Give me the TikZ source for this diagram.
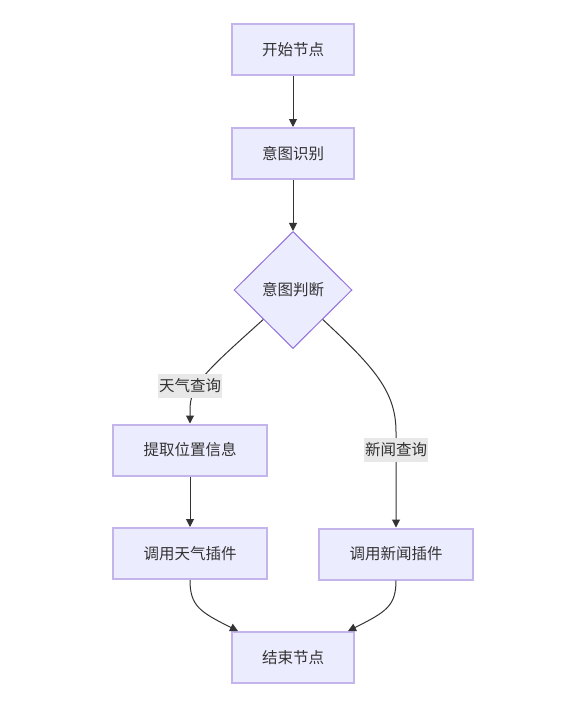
\documentclass[tikz,border=0pt]{standalone}
\usepackage{fontspec}
\setmainfont{Noto Sans CJK SC}
\usetikzlibrary{shapes.geometric,arrows.meta}
\definecolor{nodefill}{HTML}{ECECFF}
\definecolor{boxline}{HTML}{C3B5EC}
\definecolor{diamline}{HTML}{9370DB}
\definecolor{txt}{HTML}{333333}
\definecolor{edge}{HTML}{333333}
\definecolor{lblbg}{HTML}{E8E8E8}
\tikzset{
  box/.style={draw=boxline, line width=2pt, fill=nodefill, minimum width=122pt, minimum height=51pt, inner sep=0pt, text=txt, font=\fontsize{15.5pt}{18pt}\selectfont},
  wbox/.style={box, minimum width=154pt},
  dia/.style={diamond, draw=diamline, line width=1pt, fill=nodefill, minimum width=118pt, minimum height=117pt, inner sep=0pt, text=txt, font=\fontsize{15.5pt}{18pt}\selectfont},
  conn/.style={draw=edge, line width=1pt, -{Triangle[length=8pt,width=8pt]}},
  lbl/.style={fill=lblbg, text=txt, inner sep=1pt, minimum width=64pt, minimum height=24pt, font=\fontsize{15.5pt}{18pt}\selectfont}
}
\begin{document}
\begin{tikzpicture}[x=1pt,y=-1pt]
\useasboundingbox (0,0) rectangle (568,704);
\node[box] (start) at (293,49.5) {开始节点};
\node[box] (intent) at (293,153.5) {意图识别};
\node[dia] (judge) at (293,290) {意图判断};
\node[wbox] (extract) at (190,450) {提取位置信息};
\node[wbox] (weather) at (190,553.5) {调用天气插件};
\node[wbox] (news) at (396,554) {调用新闻插件};
\node[box] (end) at (293,657.5) {结束节点};

\draw[conn] (start) -- (intent);
\draw[conn] (intent) -- (judge);
\draw[conn] (judge.south west) .. controls (205,372) and (190,385) .. (190,410) -- (extract.north);
\draw[conn] (judge.south east) .. controls (375,368) and (396,392) .. (396,432) -- (news.north);
\draw[conn] (extract) -- (weather);
\draw[conn] (weather.south) .. controls (190,606) and (200,612) .. (238,631);
\draw[conn] (news.south) .. controls (396,606) and (386,612) .. (348,631);

\node[lbl] (l1) at (190,386) {天气查询};
\node[lbl] (l2) at (396,450) {新闻查询};
\end{tikzpicture}
\end{document}
